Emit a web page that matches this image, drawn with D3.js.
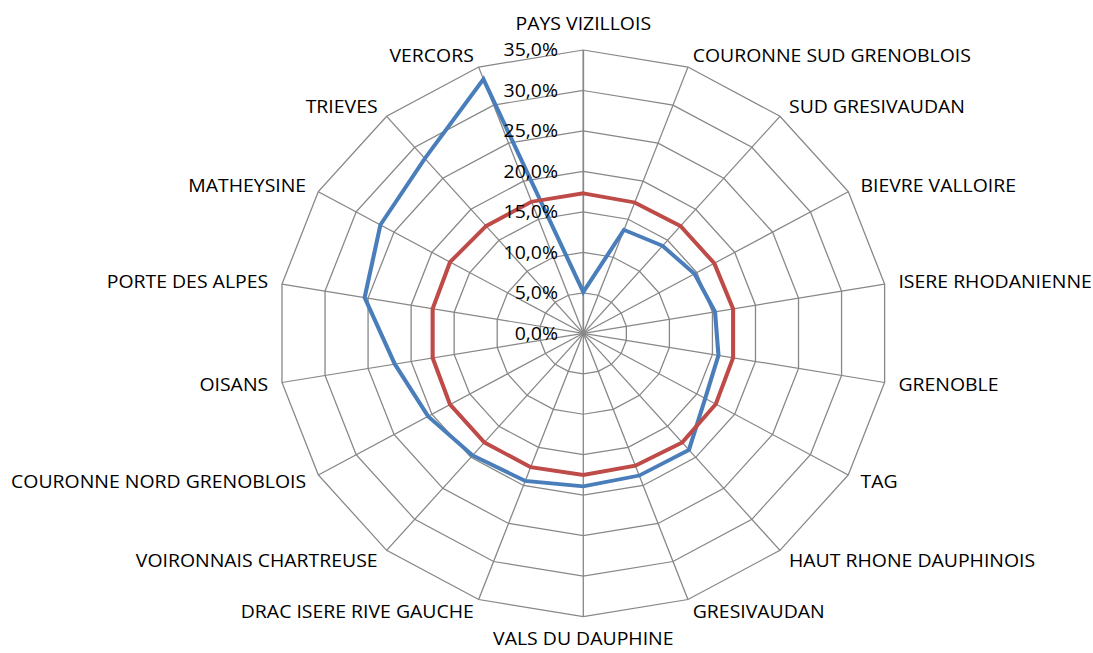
<!DOCTYPE html>
<html>
<head>
<meta charset="utf-8">
<script src="https://cdn.jsdelivr.net/npm/d3@7"></script>
<style>
  body { margin: 0; background: #fff; }
  svg { display: block; }
  text { font-family: "Open Sans", "Liberation Sans", sans-serif; fill: #000; }
</style>
</head>
<body>
<div id="chart"></div>
<script>
// categories, clockwise from the top
var categories = ["PAYS VIZILLOIS", "COURONNE SUD GRENOBLOIS", "SUD GRESIVAUDAN", "BIEVRE VALLOIRE",
    "ISERE RHODANIENNE", "GRENOBLE", "TAG", "HAUT RHONE DAUPHINOIS", "GRESIVAUDAN", "VALS DU DAUPHINE",
    "DRAC ISERE RIVE GAUCHE", "VOIRONNAIS CHARTREUSE", "COURONNE NORD GRENOBLOIS", "OISANS",
    "PORTE DES ALPES", "MATHEYSINE", "TRIEVES", "VERCORS"];

// series values (share, 0..1)
var blueValues = [0.051, 0.136, 0.141, 0.147, 0.153, 0.157, 0.161, 0.188, 0.187, 0.189,
    0.194, 0.197, 0.205, 0.219, 0.254, 0.268, 0.282, 0.334];
var redValues = [0.173, 0.172, 0.173, 0.173, 0.174, 0.174, 0.175, 0.176, 0.174, 0.175,
    0.176, 0.176, 0.176, 0.175, 0.175, 0.176, 0.173, 0.173];

var ticks = [0, 0.05, 0.10, 0.15, 0.20, 0.25, 0.30, 0.35];

var w = 1093, h = 653;
var cx = 583.3, cy = 333.3, R = 283.3;
var stretch = 1.08;   // the original picture is a bit wider than tall

var svg = d3.select("#chart").append("svg")
    .attr("width", w)
    .attr("height", h);

var r = d3.scaleLinear().domain([0, 0.35]).range([0, R]);
var angle = d3.scaleLinear().domain([0, categories.length]).range([0, 2 * Math.PI]);

function pt(i, v) {
    var a = angle(i);
    return [r(v) * Math.sin(a), -r(v) * Math.cos(a)];
}

var g = svg.append("g")
    .attr("transform", "translate(" + cx + "," + cy + ") scale(" + stretch + ",1)");

// grid polygons
ticks.slice(1).forEach(function (t) {
    g.append("path")
        .attr("d", d3.line()(categories.map(function (c, i) { return pt(i, t); })) + "Z")
        .attr("fill", "none")
        .attr("stroke", "#878787")
        .attr("stroke-width", 1.2);
});

// spokes
g.selectAll("line.spoke")
    .data(categories)
    .enter().append("line")
    .attr("class", "spoke")
    .attr("x1", 0).attr("y1", 0)
    .attr("x2", function (d, i) { return pt(i, 0.35)[0]; })
    .attr("y2", function (d, i) { return pt(i, 0.35)[1]; })
    .attr("stroke", "#878787")
    .attr("stroke-width", function (d, i) { return i === 0 ? 1.6 : 1.2; });

// series: blue first, red on top
var line = d3.line()
    .x(function (d) { return d[0]; })
    .y(function (d) { return d[1]; });

[[blueValues, "#4a7ebb"], [redValues, "#be4b48"]].forEach(function (s) {
    g.append("path")
        .attr("d", line(s[0].map(function (v, i) { return pt(i, v); })) + "Z")
        .attr("fill", "none")
        .attr("stroke", s[1])
        .attr("stroke-width", 3.8)
        .attr("stroke-linejoin", "miter");
});

// category labels
g.selectAll("text.cat")
    .data(categories)
    .enter().append("text")
    .attr("class", "cat")
    .attr("font-size", 18)
    .attr("x", function (d, i) {
        return 296.3 * Math.sin(angle(i));
    })
    .attr("y", function (d, i) {
        var rr = i === 0 ? 310 : (i === 9 ? 305 : 296);
        return -rr * Math.cos(angle(i));
    })
    .attr("dy", "0.36em")
    .attr("text-anchor", function (d, i) {
        var s = Math.sin(angle(i));
        return Math.abs(s) < 1e-6 ? "middle" : (s > 0 ? "start" : "end");
    })
    .text(function (d) { return d; });

// radial tick labels
var fmt = function (v) { return d3.format(".1f")(v * 100).replace(".", ",") + "%"; };
g.selectAll("text.tick")
    .data(ticks)
    .enter().append("text")
    .attr("class", "tick")
    .attr("font-size", 18)
    .attr("x", -23.4)
    .attr("y", function (d) { return -r(d); })
    .attr("dy", "0.36em")
    .attr("text-anchor", "end")
    .text(fmt);
</script>
</body>
</html>
